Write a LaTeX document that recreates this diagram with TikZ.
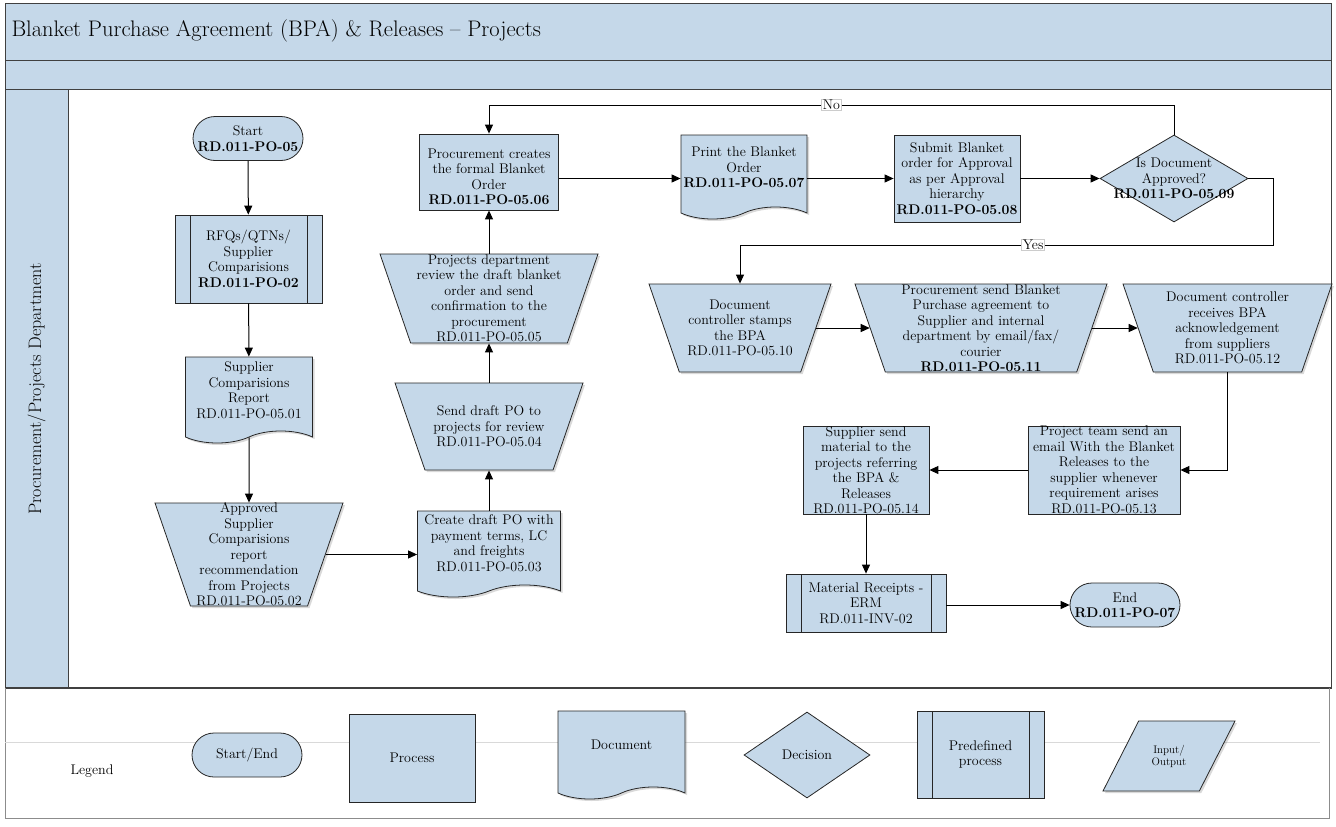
\documentclass[tikz,border=0pt]{standalone}
\usepackage{fontspec}
\usetikzlibrary{shapes.geometric,shapes.misc,shapes.symbols,arrows.meta,shadows}
\definecolor{bpablue}{RGB}{197,216,233}
\definecolor{bpaframe}{RGB}{64,64,64}
\newcommand{\bpafont}{\fontsize{14}{15.5}\selectfont}

\begin{document}
\begin{tikzpicture}[x=1pt, y=-1pt,
    wh/.style 2 args={minimum width=#1pt, minimum height=#2pt},
    trap/.style 2 args={minimum width=#1pt, text height=#2pt, text depth=#2pt},
    box/.style={draw=black!85, fill=bpablue, line width=0.8pt, inner sep=0pt},
    txt/.style={align=center, font=\bpafont, inner sep=0pt},
    terminal/.style={box, rounded rectangle},
    proc/.style={box, rectangle},
    predef/.style={proc, path picture={
        \draw ([xshift=15pt]path picture bounding box.north west) -- ([xshift=15pt]path picture bounding box.south west);
        \draw ([xshift=-15pt]path picture bounding box.north east) -- ([xshift=-15pt]path picture bounding box.south east);}},
    doc/.style={box, tape, tape bend top=none, tape bend bottom=in and out, tape bend height=12pt,
        drop shadow={opacity=0.3, shadow xshift=2pt, shadow yshift=-2pt}},
    manual/.style={box, trapezium, trapezium left angle=109, trapezium right angle=109, trapezium stretches body,
        drop shadow={opacity=0.3, shadow xshift=2pt, shadow yshift=-2pt}},
    decision/.style={box, diamond},
    io/.style={box, trapezium, trapezium left angle=63, trapezium right angle=117, trapezium stretches body,
        drop shadow={opacity=0.3, shadow xshift=2pt, shadow yshift=-2pt}},
    flow/.style={-{Triangle[length=9pt,width=8pt]}, line width=1pt},
    answer/.style={fill=white, draw=black!20, font=\bpafont, inner sep=1pt}]
    \useasboundingbox (0,0) rectangle (1336,827);

    % Swimlane frame
    \fill[bpablue] (5,3) rectangle (1331,89);
    \fill[bpablue] (5,89) rectangle (68,688);
    \draw[bpaframe, line width=1pt] (5,3) rectangle (1331,60);
    \draw[bpaframe, line width=1pt] (5,60) rectangle (1331,688);
    \draw[bpaframe, line width=1pt] (5,89) -- (1331,89);
    \draw[bpaframe, line width=1pt] (68,89) -- (68,688);
    \draw[bpaframe, line width=2pt] (5,688) -- (1331,688);
    \node[anchor=west, font=\fontsize{22.5}{26}\selectfont] (title) at (8,31) {Blanket Purchase Agreement (BPA) \& Releases -- Projects};
    \node[rotate=90, font=\fontsize{18}{21}\selectfont] (lane) at (36.5,389) {Procurement/Projects Department};

    % Legend area
    \draw[black!45] (5,688) -- (5,818) -- (1329,818) -- (1329,688);
    \draw[black!15] (5,742) -- (1320,742);

    % Left column
    \node[terminal, wh={110}{44}, label={[txt]center:{Start\\\textbf{RD.011-PO-05}}}] (start) at (248,138.5) {};
    \node[predef, wh={147}{88}, label={[txt]center:{RFQs/QTNs/\\Supplier\\Comparisions\\\textbf{RD.011-PO-02}}}] (rfq) at (248.5,259) {};
    \node[doc, wh={127}{86}, label={[txt,yshift=4pt]center:{Supplier\\Comparisions\\Report\\RD.011-PO-05.01}}] (report) at (249,394) {};
    \node[manual, trap={188}{51.5}, label={[txt]center:{Approved\\Supplier\\Comparisions\\report\\recommendation\\from Projects\\RD.011-PO-05.02}}] (approved) at (249,554.5) {};

    % Second column
    \node[doc, wh={143}{86}, label={[txt,yshift=5pt]center:{Create draft PO with\\payment terms, LC\\and freights\\RD.011-PO-05.03}}] (draft) at (489,548) {};
    \node[manual, trap={188}{43.5}, label={[txt]center:{Send draft PO to\\projects for review\\RD.011-PO-05.04}}] (sendpo) at (489,426.5) {};
    \node[manual, trap={218}{44.5}, label={[txt]center:{Projects department\\review the draft blanket\\order and send\\confirmation to the\\procurement\\RD.011-PO-05.05}}] (review) at (489,298.5) {};
    \node[proc, wh={139}{76}, label={[txt,yshift=-5pt]center:{Procurement creates\\the formal Blanket\\Order\\\textbf{RD.011-PO-05.06}}}] (procure) at (489,172) {};

    % Top row
    \node[doc, wh={126}{84}, label={[txt,yshift=3.5pt]center:{Print the Blanket\\Order\\\textbf{RD.011-PO-05.07}}}] (print) at (744,171) {};
    \node[proc, wh={126}{87}, label={[txt]center:{Submit Blanket\\order for Approval\\as per Approval\\hierarchy\\\textbf{RD.011-PO-05.08}}}] (submit) at (957,178.5) {};
    \node[decision, wh={148}{87}, label={[txt]center:{Is Document\\Approved?\\\textbf{RD.011-PO-05.09}}}] (approve) at (1174,178.5) {};

    % Middle row
    \node[manual, trap={182}{44}, label={[txt]center:{Document\\controller stamps\\the BPA\\RD.011-PO-05.10}}] (stamps) at (740,328) {};
    \node[manual, trap={252}{44}, label={[txt]center:{Procurement send Blanket\\Purchase agreement to\\Supplier and internal\\department by email/fax/\\courier\\\textbf{RD.011-PO-05.11}}}] (send) at (981,328) {};
    \node[manual, trap={209}{44}, label={[txt]center:{Document controller\\receives BPA\\acknowledgement\\from suppliers\\RD.011-PO-05.12}}] (receives) at (1227.5,328) {};

    % Bottom row
    \node[proc, wh={152}{88}, label={[txt]center:{Project team send an\\email With the Blanket\\Releases to the\\supplier whenever\\requirement arises\\RD.011-PO-05.13}}] (projteam) at (1104,470) {};
    \node[proc, wh={126}{88}, label={[txt]center:{Supplier send\\material to the\\projects referring\\the BPA \&\\Releases\\RD.011-PO-05.14}}] (supsend) at (866,470) {};
    \node[predef, wh={160}{58}, label={[txt]center:{Material Receipts -\\ERM\\RD.011-INV-02}}] (matrec) at (866,603) {};
    \node[terminal, wh={110}{44}, label={[txt]center:{End\\\textbf{RD.011-PO-07}}}] (endn) at (1125,605) {};

    % Connectors
    \draw[flow] (start) -- (rfq);
    \draw[flow] (rfq) -- (report);
    \draw[flow] (report) -- (approved);
    \draw[flow] (approved.east) -- (approved.east -| draft.west);
    \draw[flow] (draft) -- (sendpo);
    \draw[flow] (sendpo) -- (review);
    \draw[flow] (review) -- (procure);
    \draw[flow] (procure.east |- submit.west) -- (print.west |- submit.west);
    \draw[flow] (print.east |- submit.west) -- (submit.west);
    \draw[flow] (submit) -- (approve);
    \coordinate (notop) at (1174,105);
    \draw[flow] (approve.north) -- (notop) -- node[answer] (nolbl) {No} (notop -| procure.north) -- (procure.north);
    \coordinate (yesturn) at (1273,245);
    \draw[flow] (approve.east) -| (yesturn) -- node[answer, pos=0.45] (yeslbl) {Yes} (yesturn -| stamps.north) -- (stamps.north);
    \draw[flow] (stamps) -- (send);
    \draw[flow] (send) -- (receives);
    \draw[flow] (receives.south) |- (projteam.east);
    \draw[flow] (projteam) -- (supsend);
    \draw[flow] (supsend) -- (matrec);
    \draw[flow] (matrec.east |- endn) -- (endn);

    % Legend shapes
    \node[font=\bpafont] (legend) at (92,771) {Legend};
    \node[terminal, wh={110}{44}, label={[txt]center:{Start/End}}] (lgterm) at (247,755) {};
    \node[proc, wh={126}{88}, label={[txt]center:{Process}}] (lgproc) at (412,758) {};
    \node[doc, wh={127}{88}, label={[txt,yshift=4pt]center:{Document}}] (lgdoc) at (621.5,749) {};
    \node[decision, wh={126}{86}, label={[txt]center:{Decision}}] (lgdec) at (807,755) {};
    \node[predef, wh={127}{87}, label={[txt]center:{Predefined\\process}}] (lgpre) at (980.5,754.5) {};
    \node[io, trap={132}{35}, label={[txt, font=\fontsize{11}{12}\selectfont]center:{Input/\\Output}}] (lgio) at (1169,756) {};
\end{tikzpicture}
\end{document}
